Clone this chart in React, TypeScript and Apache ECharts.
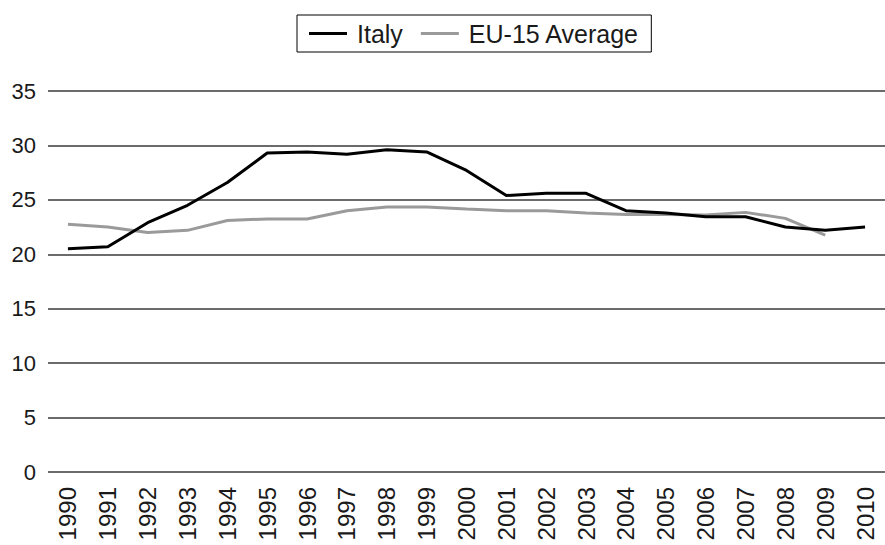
import React, { useEffect, useRef } from "react";
import * as echarts from "echarts";

const years = [
  "1990", "1991", "1992", "1993", "1994", "1995", "1996", "1997", "1998", "1999",
  "2000", "2001", "2002", "2003", "2004", "2005", "2006", "2007", "2008", "2009", "2010",
];
const italy = [
  20.5, 20.7, 22.9, 24.5, 26.6, 29.3, 29.4, 29.2, 29.6, 29.4,
  27.7, 25.4, 25.6, 25.6, 24.0, 23.8, 23.45, 23.45, 22.5, 22.2, 22.5,
];
const eu15 = [
  22.75, 22.5, 22.0, 22.2, 23.1, 23.25, 23.25, 24.0, 24.35, 24.35,
  24.15, 24.0, 24.0, 23.8, 23.65, 23.65, 23.6, 23.85, 23.3, 21.75, null,
];
const yTicks = { min: 0, max: 35, interval: 5 };

const FONT = "'Liberation Sans', Arial, Helvetica, sans-serif";

export default function App() {
  const ref = useRef<HTMLDivElement>(null);
  useEffect(() => {
    document.body.style.margin = "0";
    const chart = echarts.init(ref.current!, null, { renderer: "svg" });
    chart.setOption({
      animation: false,
      backgroundColor: "#ffffff",
      textStyle: { fontFamily: FONT },
      legend: {
        left: 297,
        top: 15,
        orient: "horizontal",
        padding: [6, 12, 6, 12],
        borderColor: "#000",
        borderWidth: 1,
        itemWidth: 38,
        itemHeight: 3,
        itemGap: 18,
        icon: "rect",
        textStyle: {
          fontFamily: FONT,
          fontSize: 25,
          color: "#1a1a1a",
          lineHeight: 25,
          padding: [0, 0, 0, 5],
        },
        data: [
          { name: "Italy", itemStyle: { color: "#000" } },
          { name: "EU-15 Average", itemStyle: { color: "#9a9a9a" } },
        ],
      },
      grid: {
        left: 48,
        top: 91,
        width: 850.5,
        height: 381,
        containLabel: false,
      },
      xAxis: {
        type: "category",
        data: years,
        boundaryGap: true,
        axisLine: { show: false },
        axisTick: { show: false },
        splitLine: { show: false },
        axisLabel: {
          interval: 0,
          rotate: 90,
          margin: 15,
          fontFamily: FONT,
          fontSize: 24,
          color: "#1a1a1a",
        },
      },
      yAxis: {
        type: "value",
        min: yTicks.min,
        max: yTicks.max,
        interval: yTicks.interval,
        axisLine: { show: false },
        axisTick: { show: false },
        splitLine: { show: true, lineStyle: { color: "#3a3a3a", width: 1.5 } },
        axisLabel: {
          margin: 12,
          fontFamily: FONT,
          fontSize: 22,
          color: "#1a1a1a",
        },
      },
      series: [
        {
          name: "Italy",
          type: "line",
          data: italy,
          symbol: "none",
          lineStyle: { color: "#000", width: 3 },
          itemStyle: { color: "#000" },
          z: 3,
        },
        {
          name: "EU-15 Average",
          type: "line",
          data: eu15,
          symbol: "none",
          connectNulls: false,
          lineStyle: { color: "#9a9a9a", width: 3 },
          itemStyle: { color: "#9a9a9a" },
          z: 2,
        },
      ],
    });
    return () => chart.dispose();
  }, []);
  return <div ref={ref} style={{ width: 885, height: 545 }} />;
}
